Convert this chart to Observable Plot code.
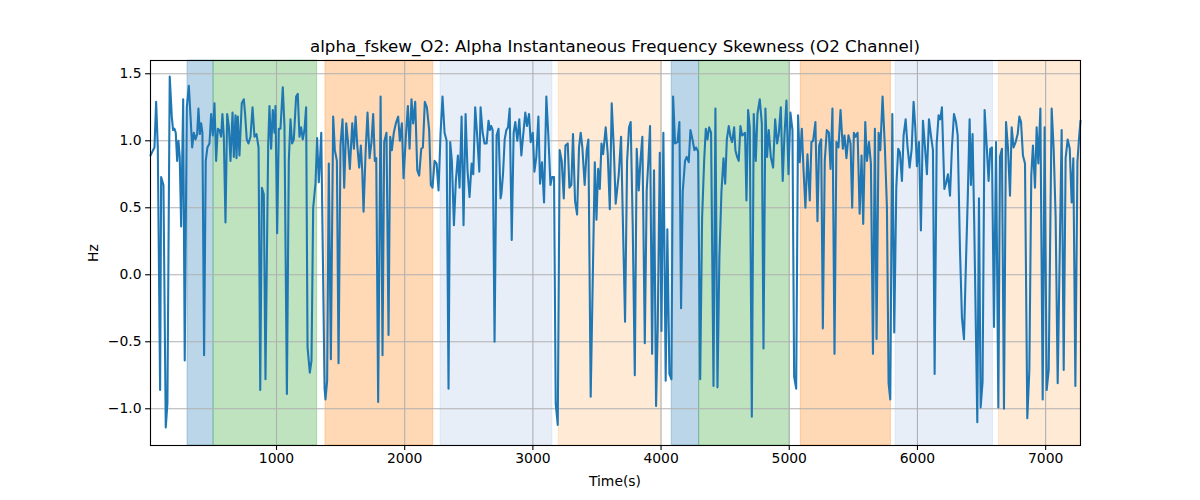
<!DOCTYPE html>
<html><head><meta charset="utf-8">
<script src="https://cdn.jsdelivr.net/npm/d3@7"></script>
<script src="https://cdn.jsdelivr.net/npm/@observablehq/plot@0.6"></script>
<style>body{margin:0;background:#fff} #chart svg{display:block}</style>
</head><body><div id="chart"></div>
<script>
const title = "alpha_fskew_O2: Alpha Instantaneous Frequency Skewness (O2 Channel)";
const xLabel = "Time(s)";
const yLabel = "Hz";
const xTicks = [1000, 2000, 3000, 4000, 5000, 6000, 7000];
const yTicks = [-1.0, -0.5, 0.0, 0.5, 1.0, 1.5];

const time = [
17,37,48,61,74,92,100,118,136,149,167,183,193,204,214,225,235,245,256,272,284,300,316,331,342,355,368,381,391,402,412,422,435,448,461,477,490,503,516,529,542,555,568,578,589,602,615,628,641,657,667,680,688,698,711,729,745,755,768,781,797,813,828,844,860,873,886,901,914,
935,945,958,971,984,992,1005,1018,1031,1049,1062,1081,1096,1109,1122,1135,1153,1166,1179,1192,1205,1218,1231,1242,1260,1273,1286,1304,1317,1330,1338,1349,1375,1382,1395,1408,1424,1442,1455,1471,1484,1499,1515,1528,1544,1557,1572,1591,1604,1617,1630,1645,1658,1669,1679,1695,1710,1726,1741,1754,1767,1778,1793,1812,1827,
1840,1858,1874,1887,1900,1915,1931,1949,1962,1978,1991,2009,2025,2038,2053,2066,2082,2098,2113,2129,2142,2157,2173,2191,2204,2217,2233,2249,2264,2280,2295,2311,2327,2342,2355,2368,2384,2399,2415,2428,2444,2459,2475,2490,2506,2522,2535,2550,2566,2582,2592,2608,2623,2639,2654,2665,2675,2686,2701,2717,2732,2748,
2754,2767,2780,2793,2806,2819,2835,2850,2863,2879,2894,2910,2926,2941,2954,2970,2983,2999,3012,3027,3043,3056,3071,3087,3105,3121,3137,3150,3165,3178,3194,3209,3225,3241,3254,3272,3285,3300,3313,3329,3345,3360,3373,3386,3404,3420,3433,3451,3483,3496,3509,3522,3535,3548,3568,3584,3600,3615,3631,3646,
3670,3688,3703,3719,3735,3750,3763,3779,3795,3810,3826,3839,3854,3873,3888,3901,3914,3930,3945,3961,3974,3990,4003,4018,4036,4049,4065,4081,4094,4109,4128,4143,4156,4169,4187,4200,4216,4229,4245,4260,4273,4289,4305,4320,4336,4349,4362,4375,4390,4409,4424,4440,4455,4471,4487,4500,4513,4528,4541,4554,4570,
4580,4593,4606,4619,4632,4645,4655,4666,4679,4692,4708,4723,4739,4752,4770,4786,4799,4814,4827,4840,4856,4874,4890,4905,4918,4934,4949,4962,4978,4994,5009,5025,5038,5054,5069,5082,5098,5111,5126,5142,5160,5173,5186,5204,5220,5233,5249,5262,5277,5293,5309,5322,5337,5353,5368,5384,5400,5418,5431,5446,5462,5478,
5491,5504,5517,5533,5549,5564,5577,5593,5606,5622,5637,5653,5668,5681,5697,5710,5728,5746,5762,5775,5788,5804,5819,5835,5850,5863,5879,5892,5908,5923,5939,5955,5970,5983,5996,6012,6027,6043,6059,6074,6090,6105,6121,6134,6150,6165,6178,6191,6210,6225,6238,6254,6269,6285,6301,6314,6332,6347,6363,6379,6392,
6407,6417,6430,6443,6467,6480,6493,6508,6524,6540,6555,6568,6581,6597,6613,6631,6644,6659,6675,6691,6706,6722,6735,6750,6766,6782,6795,6808,6823,6839,6857,6873,6888,6901,6917,6930,6943,6959,6977,6992,7008,7024,7047,7063,7078,7094,7125,7141,7156,7172,7188,7203,7216,7232,7248,7260,7272
];
const hz = [
0.89,0.93,0.95,1.29,0.95,-0.86,0.73,0.67,-1.14,-0.96,1.48,1.18,1.08,1.09,1.06,0.85,1.0,0.88,0.36,1.31,-0.64,1.25,1.41,1.15,0.95,1.06,1.01,1.05,1.24,1.05,1.13,1.06,-0.6,0.85,0.95,0.98,1.2,1.04,1.28,0.85,1.09,1.08,1.03,1.2,1.03,0.39,1.2,1.11,0.85,1.21,0.88,1.19,0.87,1.18,0.89,1.28,1.31,1.2,1.01,0.98,1.03,1.25,1.03,1.05,0.95,-0.86,0.65,0.6,-0.78,
0.965,1.26,0.94,1.23,1.06,1.26,0.31,1.09,1.09,1.40,1.11,-0.89,0.85,1.16,0.98,1.01,1.33,1.35,1.03,1.10,1.01,1.08,1.25,-0.54,-0.73,-0.64,0.5,0.68,1.02,0.69,0.83,1.06,-0.85,-0.93,-0.79,0.83,-0.63,1.18,0.93,0.85,-0.66,0.965,1.16,0.65,1.13,1.0,0.79,1.13,0.94,1.18,0.965,0.80,0.965,0.77,0.47,0.915,1.21,0.87,0.99,1.2,0.85,0.87,-0.95,1.33,-0.6,
0.99,1.06,-0.45,1.03,0.93,1.06,1.13,1.18,1.0,1.13,0.72,1.03,1.26,0.94,1.31,1.13,1.29,0.78,0.74,0.94,0.95,1.29,1.25,1.08,0.67,0.65,0.85,0.83,0.63,1.06,1.33,1.06,1.0,-0.85,0.99,0.85,0.37,0.70,0.89,0.65,1.18,0.37,1.2,0.78,0.58,0.83,0.75,1.25,1.03,0.77,1.25,1.06,0.98,0.98,1.15,1.08,1.11,1.08,-0.5,1.04,1.09,0.57,
0.60,0.75,1.01,1.08,1.10,1.24,0.26,1.06,1.14,1.0,1.16,0.89,1.06,1.21,1.11,1.2,0.99,1.06,0.77,0.88,1.18,0.68,0.84,0.54,1.33,1.03,0.67,0.73,0.73,-0.96,-1.12,0.93,0.85,0.57,0.965,0.98,0.65,0.67,1.05,0.55,0.45,0.95,1.06,0.95,0.67,0.93,1.01,-0.91,0.84,0.41,0.79,0.64,0.98,0.90,1.10,0.90,0.49,1.28,0.95,0.53,
0.75,1.03,0.36,-0.35,0.85,1.10,1.14,0.36,-0.75,0.94,0.63,0.85,1.03,-0.51,0.63,0.85,1.11,-0.59,0.78,-0.98,-0.39,0.91,-0.42,1.06,-0.79,0.34,-0.74,-0.78,1.33,0.98,0.99,1.14,-0.25,0.62,0.85,0.88,0.84,1.08,1.01,0.93,0.95,0.92,-0.78,0.42,0.85,1.09,1.01,1.10,1.06,-0.83,1.24,-0.84,0.13,0.62,0.87,0.68,1.01,1.11,1.03,0.99,1.10,
0.93,0.88,0.85,1.11,1.04,1.05,1.06,0.555,1.23,1.10,-1.06,1.2,0.85,1.2,1.31,1.13,-0.55,1.24,0.88,1.08,0.88,0.80,1.16,0.98,1.05,1.25,0.70,1.03,1.30,0.75,1.21,1.08,-0.76,-0.85,1.19,0.84,1.09,0.79,0.50,0.90,0.555,0.99,1.0,1.14,0.40,0.965,1.01,-0.40,0.85,1.08,1.06,0.79,1.24,-0.59,0.99,0.95,1.23,0.94,1.04,0.87,1.04,0.98,
0.50,1.06,1.03,1.06,0.455,0.89,0.38,1.14,0.85,0.99,0.83,-0.59,1.09,-0.48,1.06,0.93,1.33,0.95,0.50,-0.81,-0.93,1.2,-0.43,0.65,0.94,0.915,0.70,1.04,1.16,0.95,0.80,0.94,1.29,1.10,0.81,0.99,0.33,1.15,0.95,0.75,1.16,1.04,0.93,-0.74,0.98,1.19,1.16,1.25,0.64,0.69,0.75,0.59,0.95,1.2,1.14,1.04,0.18,-0.32,-0.48,0.11,0.555,
1.16,0.67,1.05,0.38,-1.10,0.57,-0.99,-0.80,1.23,0.965,0.70,0.94,0.95,-0.39,0.99,-0.99,0.88,0.94,-1.0,1.14,0.95,0.59,1.10,0.95,0.99,1.05,1.18,1.14,0.89,0.83,-1.07,-0.71,0.74,0.965,0.65,1.10,0.83,1.24,-0.93,1.10,-0.86,-0.71,1.24,0.93,0.43,-0.81,1.08,-0.71,0.87,1.01,0.94,0.54,0.87,-0.83,0.84,1.01,1.15
];

const spanStart = [306, 509, 1382, 2280, 3202, 4083, 4297, 5090, 5830, 6636];
const spanEnd   = [509, 1317, 2223, 3152, 4000, 4297, 5004, 5793, 6589, 7272];
const spanColor = ["#1f77b4", "#2ca02c", "#ff7f0e", "#aec7e8", "#ffbb78", "#1f77b4", "#2ca02c", "#ff7f0e", "#aec7e8", "#ffbb78"];

const data = time.map((t, i) => ({t, v: hz[i]}));
const spans = spanStart.map((s, i) => ({x1: s, x2: spanEnd[i], c: spanColor[i]}));

const plot = Plot.plot({
  width: 1200, height: 500,
  marginLeft: 150, marginRight: 120, marginTop: 60, marginBottom: 55,
  style: {fontFamily: "DejaVu Sans", fontSize: "13.9px", background: "#fff", color: "#000"},
  x: {domain: [17, 7272]},
  y: {domain: [-1.274, 1.599]},
  color: {type: "identity"},
  marks: [
    Plot.rect(spans, {x1: "x1", x2: "x2", fill: "c", fillOpacity: 0.3, stroke: "c", strokeOpacity: 0.3, strokeWidth: 1}),
    Plot.gridX(xTicks, {stroke: "#b0b0b0", strokeOpacity: 1, strokeWidth: 1.1}),
    Plot.gridY(yTicks, {stroke: "#b0b0b0", strokeOpacity: 1, strokeWidth: 1.1}),
    Plot.line(data, {x: "t", y: "v", stroke: "#1f77b4", strokeWidth: 2.08}),
    Plot.frame({stroke: "#000", strokeWidth: 1.1}),
    Plot.axisX(xTicks, {tickSize: 4.9, tickPadding: 3, strokeWidth: 1.1, tickFormat: d => String(d), label: null, fontSize: 13.9}),
    Plot.axisY(yTicks, {tickSize: 4.9, tickPadding: 4, strokeWidth: 1.1, tickFormat: d3.format(".1f"), label: null, fontSize: 13.9})
  ]
});

const svg = d3.select(plot);
svg.append("text").attr("x", 615).attr("y", 51.5).attr("text-anchor", "middle")
  .attr("font-size", "16.67px").attr("fill", "#000").text(title);
svg.append("text").attr("x", 615).attr("y", 486).attr("text-anchor", "middle")
  .attr("font-size", "13.9px").attr("fill", "#000").text(xLabel);
svg.append("text").attr("transform", "translate(98,253) rotate(-90)").attr("text-anchor", "middle")
  .attr("font-size", "13.9px").attr("fill", "#000").text(yLabel);

document.getElementById("chart").appendChild(plot);
</script>
</body></html>
